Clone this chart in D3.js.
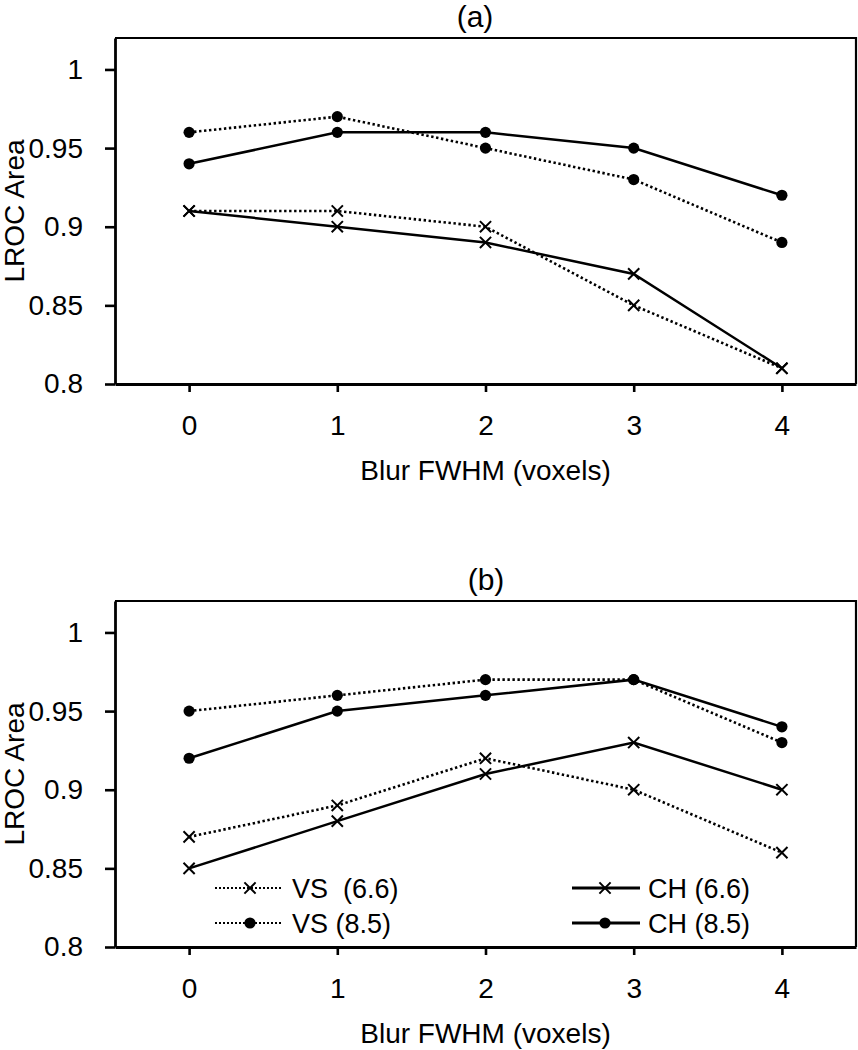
<!DOCTYPE html>
<html>
<head>
<meta charset="utf-8">
<script src="https://cdn.jsdelivr.net/npm/d3@7"></script>
<style>
  html, body { margin: 0; padding: 0; background: #fff; }
  svg { display: block; }
  text { font-family: "Liberation Sans", Arial, sans-serif; fill: #000; }
</style>
</head>
<body>
<script>
// ---------- data ----------
const blurFWHM = [0, 1, 2, 3, 4];
const xTickLabels = ["0", "1", "2", "3", "4"];
const yTicks = [0.8, 0.85, 0.9, 0.95, 1];
const yTickLabels = ["0.8", "0.85", "0.9", "0.95", "1"];
const panelTitles = ["(a)", "(b)"];
const xAxisTitle = "Blur FWHM (voxels)";
const yAxisTitle = "LROC Area";
const seriesNames = ["VS  (6.6)", "VS (8.5)", "CH (6.6)", "CH (8.5)"];

// panel (a)
const a_VS66 = [0.91, 0.91, 0.90, 0.85, 0.81];
const a_VS85 = [0.96, 0.97, 0.95, 0.93, 0.89];
const a_CH66 = [0.91, 0.90, 0.89, 0.87, 0.81];
const a_CH85 = [0.94, 0.96, 0.96, 0.95, 0.92];
// panel (b)
const b_VS66 = [0.87, 0.89, 0.92, 0.90, 0.86];
const b_VS85 = [0.95, 0.96, 0.97, 0.97, 0.93];
const b_CH66 = [0.85, 0.88, 0.91, 0.93, 0.90];
const b_CH85 = [0.92, 0.95, 0.96, 0.97, 0.94];

// ---------- layout / style ----------
const W = 858, H = 1050;
const FONT = "Liberation Sans";
const seriesStyle = [
  { dotted: true,  marker: "x" },
  { dotted: true,  marker: "o" },
  { dotted: false, marker: "x" },
  { dotted: false, marker: "o" }
];
const panels = [
  { top: 38,  title: panelTitles[0], titleX: 475, series: [a_VS66, a_VS85, a_CH66, a_CH85], legend: false },
  { top: 601, title: panelTitles[1], titleX: 486, series: [b_VS66, b_VS85, b_CH66, b_CH85], legend: true }
];
const plotLeft = 115, plotRight = 856, plotH = 346;
const FS = 28;

const svg = d3.select("body").append("svg").attr("width", W).attr("height", H);

const x = d3.scaleLinear().domain([-0.5, 4.5]).range([plotLeft, plotRight]);

function marker(sel, type, cx, cy) {
  if (type === "o") {
    sel.append("circle").attr("cx", cx).attr("cy", cy).attr("r", 5.6).attr("fill", "#000");
  } else {
    const s = 5.6;
    sel.append("path")
      .attr("d", `M${cx - s},${cy - s}L${cx + s},${cy + s}M${cx - s},${cy + s}L${cx + s},${cy - s}`)
      .attr("stroke", "#000").attr("stroke-width", 2).attr("fill", "none");
  }
}

panels.forEach(p => {
  const g = svg.append("g");
  const top = p.top, bottom = p.top + plotH;
  const y = d3.scaleLinear().domain([0.8, 1.02]).range([bottom, top]);

  // frame top and right
  g.append("path")
    .attr("d", `M${plotLeft},${top}H${plotRight}V${bottom}`)
    .attr("fill", "none").attr("stroke", "#000").attr("stroke-width", 2.2);

  // y axis
  const ya = g.append("g").attr("transform", `translate(${plotLeft},0)`)
    .call(d3.axisLeft(y).tickValues(yTicks).tickFormat((d, i) => yTickLabels[i])
      .tickSize(10).tickSizeOuter(0).tickPadding(22));
  ya.select(".domain").attr("stroke", "#000").attr("stroke-width", 2.8);
  ya.selectAll(".tick line").attr("stroke", "#000").attr("stroke-width", 2.6);
  ya.selectAll(".tick text").attr("font-size", FS).attr("font-family", FONT).attr("fill", "#000");

  // x axis
  const xa = g.append("g").attr("transform", `translate(0,${bottom})`)
    .call(d3.axisBottom(x).tickValues(blurFWHM).tickFormat((d, i) => xTickLabels[i])
      .tickSize(8).tickSizeOuter(0).tickPadding(22));
  xa.select(".domain").attr("stroke", "#000").attr("stroke-width", 2.8);
  xa.selectAll(".tick line").attr("stroke", "#000").attr("stroke-width", 2.6);
  xa.selectAll(".tick text").attr("font-size", FS).attr("font-family", FONT).attr("fill", "#000")
    .attr("dy", null).attr("y", 51);

  // titles
  g.append("text").attr("x", p.titleX).attr("y", top - 11).attr("text-anchor", "middle")
    .attr("font-size", 30).text(p.title);
  g.append("text").attr("x", (plotLeft + plotRight) / 2).attr("y", bottom + 96)
    .attr("text-anchor", "middle").attr("font-size", FS).text(xAxisTitle);
  g.append("text").attr("transform", `translate(24,${(top + bottom) / 2}) rotate(-90)`)
    .attr("text-anchor", "middle").attr("font-size", FS).text(yAxisTitle);

  // series
  const line = d3.line().x((d, i) => x(blurFWHM[i])).y(d => y(d));
  p.series.forEach((vals, si) => {
    const st = seriesStyle[si];
    g.append("path").datum(vals).attr("d", line)
      .attr("fill", "none").attr("stroke", "#000")
      .attr("stroke-width", st.dotted ? 2.6 : 2.5)
      .attr("stroke-dasharray", st.dotted ? "2.4,2.6" : null);
    vals.forEach((v, i) => marker(g, st.marker, x(blurFWHM[i]), y(v)));
  });

  // legend
  if (p.legend) {
    const items = [
      { s: 0, lx: 215, rx: 282, mx: 250, tx: 292, ry: 888 },
      { s: 1, lx: 215, rx: 282, mx: 250, tx: 292, ry: 923 },
      { s: 2, lx: 572, rx: 640, mx: 605, tx: 648, ry: 888 },
      { s: 3, lx: 572, rx: 640, mx: 605, tx: 648, ry: 923 }
    ];
    items.forEach(it => {
      const st = seriesStyle[it.s];
      g.append("line").attr("x1", it.lx).attr("x2", it.rx).attr("y1", it.ry).attr("y2", it.ry)
        .attr("stroke", "#000").attr("stroke-width", st.dotted ? 2 : 2.8)
        .attr("stroke-dasharray", st.dotted ? "2,2" : null);
      marker(g, st.marker, it.mx, it.ry);
      g.append("text").attr("x", it.tx).attr("y", it.ry + 10).attr("font-size", 27)
        .style("white-space", "pre").text(seriesNames[it.s]);
    });
  }
});
</script>
</body>
</html>
